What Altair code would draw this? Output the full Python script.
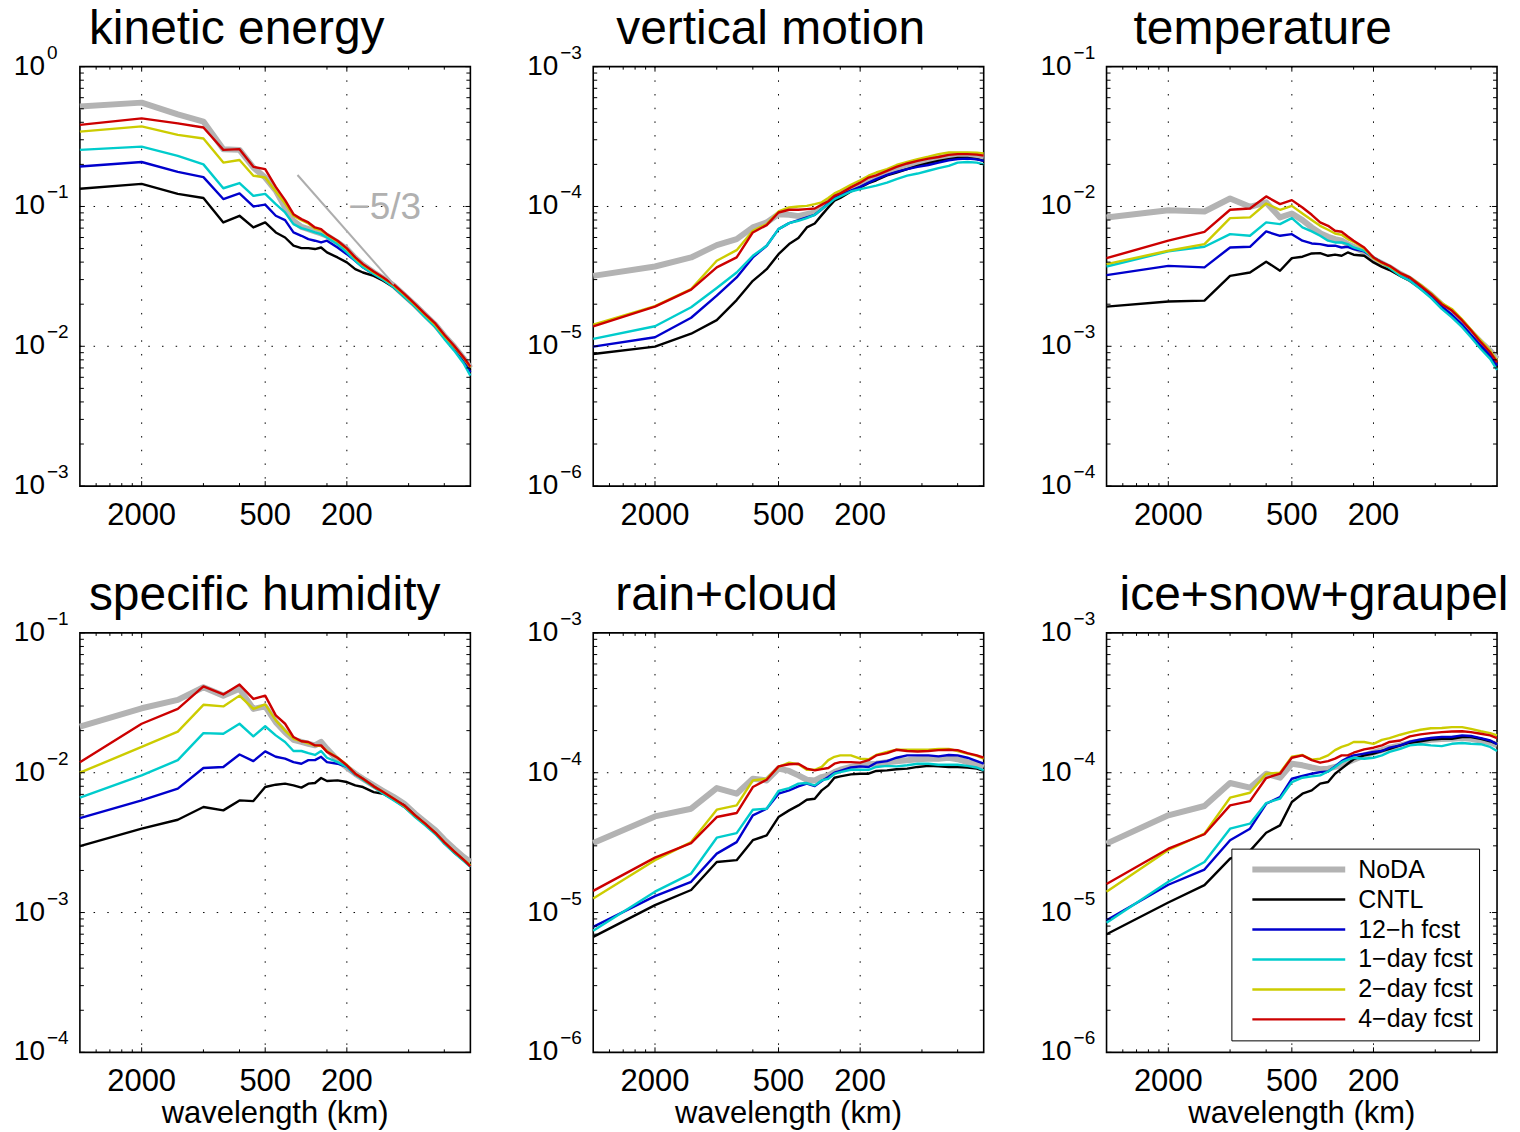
import altair as alt
import pandas as pd

FONT = "Liberation Sans"

SERIES = ["NoDA", "CNTL", "12\u2212h fcst", "1\u2212day fcst", "2\u2212day fcst", "4\u2212day fcst"]
COLORS = ["#b3b3b3", "#000000", "#0000cc", "#00cccc", "#cccc00", "#cc0000"]
WIDTHS = [6, 2.4, 2.4, 2.4, 2.4, 2.4]

# wavelength (km) of each spectral sample
WAVELENGTH = [4000, 2000, 1333, 1000, 800, 667, 571, 500, 444, 400, 364, 333, 308, 286,
              267, 250, 222, 200, 182, 167, 148, 133, 118, 105, 93, 83, 74, 67, 60, 54, 50]

# ---- kinetic energy ----
ke_noda = [0.518, 0.553, 0.456, 0.405, 0.257, 0.254, 0.190, 0.161, 0.130, 0.0984, 0.079, 0.0715, 0.0689, 0.0663, 0.0641, 0.0617,
           0.0553, 0.0496, 0.0427, 0.0383, 0.0337, 0.0306, 0.0271, 0.0232, 0.0197, 0.0167, 0.0142, 0.0119, 0.00995, 0.00821, 0.0070]
ke_cntl = [0.134, 0.145, 0.123, 0.115, 0.0769, 0.0858, 0.0708, 0.0769, 0.0652, 0.0600, 0.0524, 0.0504, 0.0504, 0.0496, 0.0509, 0.0469,
           0.0432, 0.0398, 0.0356, 0.0337, 0.0319, 0.0294, 0.0264, 0.0227, 0.0193, 0.0164, 0.0138, 0.0116, 0.00962, 0.00799, 0.0067]
ke_12h = [0.193, 0.208, 0.177, 0.162, 0.113, 0.124, 0.100, 0.103, 0.0858, 0.0799, 0.0652, 0.0617, 0.0584, 0.0569, 0.0553, 0.0569,
          0.0509, 0.0456, 0.0409, 0.0367, 0.0329, 0.0301, 0.0267, 0.0228, 0.0194, 0.0164, 0.0139, 0.0116, 0.00962, 0.0079, 0.00652]
ke_1day = [0.254, 0.268, 0.230, 0.200, 0.135, 0.147, 0.119, 0.123, 0.104, 0.0906, 0.0748, 0.0700, 0.0677, 0.0652, 0.0634, 0.0600,
           0.0538, 0.0469, 0.0409, 0.0367, 0.0329, 0.0299, 0.0264, 0.0226, 0.0192, 0.0161, 0.0137, 0.0113, 0.00931, 0.00756, 0.00617]
ke_2day = [0.343, 0.374, 0.325, 0.306, 0.206, 0.215, 0.166, 0.161, 0.128, 0.105, 0.0858, 0.0799, 0.0756, 0.0696, 0.0677, 0.0627,
           0.0563, 0.0496, 0.0427, 0.0383, 0.0339, 0.0308, 0.0273, 0.0234, 0.0198, 0.0168, 0.0142, 0.0119, 0.00995, 0.00825, 0.00704]
ke_4day = [0.383, 0.427, 0.393, 0.367, 0.254, 0.257, 0.192, 0.185, 0.138, 0.111, 0.0881, 0.0812, 0.0769, 0.0708, 0.0689, 0.0634,
           0.0569, 0.0501, 0.0432, 0.0387, 0.0343, 0.0311, 0.0276, 0.0237, 0.0200, 0.0170, 0.0145, 0.0121, 0.0101, 0.00835, 0.00715]

# ---- vertical motion ----
vm_noda = [3.19e-5, 3.72e-5, 4.32e-5, 5.29e-5, 5.84e-5, 7.08e-5, 7.69e-5, 8.81e-5, 8.72e-5, 8.53e-5, 8.81e-5, 9.06e-5, 9.84e-5, 1.07e-4, 1.16e-4, 1.21e-4,
           1.33e-4, 1.43e-4, 1.54e-4, 1.63e-4, 1.74e-4, 1.84e-4, 1.95e-4, 2.05e-4, 2.14e-4, 2.22e-4, 2.27e-4, 2.31e-4, 2.31e-4, 2.28e-4, 2.24e-4]
vm_cntl = [8.81e-6, 9.95e-6, 1.23e-5, 1.54e-5, 2.14e-5, 2.94e-5, 3.56e-5, 4.56e-5, 5.38e-5, 5.94e-5, 7.08e-5, 7.56e-5, 8.67e-5, 9.84e-5, 1.10e-4, 1.15e-4,
           1.28e-4, 1.37e-4, 1.47e-4, 1.54e-4, 1.67e-4, 1.75e-4, 1.85e-4, 1.95e-4, 2.04e-4, 2.12e-4, 2.18e-4, 2.22e-4, 2.22e-4, 2.18e-4, 2.12e-4]
vm_12h = [9.95e-6, 1.16e-5, 1.60e-5, 2.30e-5, 3.11e-5, 4.32e-5, 5.24e-5, 6.89e-5, 7.60e-5, 7.99e-5, 8.35e-5, 8.72e-5, 9.57e-5, 1.05e-4, 1.15e-4, 1.21e-4,
          1.30e-4, 1.38e-4, 1.48e-4, 1.57e-4, 1.68e-4, 1.77e-4, 1.85e-4, 1.92e-4, 1.98e-4, 2.06e-4, 2.14e-4, 2.18e-4, 2.20e-4, 2.17e-4, 2.12e-4]
vm_1day = [1.13e-5, 1.39e-5, 1.90e-5, 2.61e-5, 3.37e-5, 4.44e-5, 5.24e-5, 6.89e-5, 7.60e-5, 7.90e-5, 8.25e-5, 8.72e-5, 9.57e-5, 1.04e-4, 1.13e-4, 1.18e-4,
           1.28e-4, 1.33e-4, 1.37e-4, 1.41e-4, 1.48e-4, 1.57e-4, 1.66e-4, 1.72e-4, 1.80e-4, 1.88e-4, 1.95e-4, 2.06e-4, 2.08e-4, 2.06e-4, 2.00e-4]
vm_2day = [1.43e-5, 1.94e-5, 2.57e-5, 4.09e-5, 4.87e-5, 6.70e-5, 7.48e-5, 9.21e-5, 9.84e-5, 1.00e-4, 1.01e-4, 1.04e-4, 1.07e-4, 1.15e-4, 1.24e-4, 1.30e-4,
           1.43e-4, 1.54e-4, 1.66e-4, 1.75e-4, 1.85e-4, 1.98e-4, 2.08e-4, 2.18e-4, 2.27e-4, 2.37e-4, 2.43e-4, 2.43e-4, 2.43e-4, 2.42e-4, 2.39e-4]
vm_4day = [1.39e-5, 1.92e-5, 2.54e-5, 3.67e-5, 4.32e-5, 6.52e-5, 7.36e-5, 9.06e-5, 9.47e-5, 9.47e-5, 9.57e-5, 9.68e-5, 1.03e-4, 1.09e-4, 1.19e-4, 1.24e-4,
           1.37e-4, 1.48e-4, 1.61e-4, 1.67e-4, 1.80e-4, 1.92e-4, 2.03e-4, 2.12e-4, 2.20e-4, 2.26e-4, 2.34e-4, 2.37e-4, 2.37e-4, 2.35e-4, 2.31e-4]

# ---- temperature ----
tp_noda = [8.35e-3, 9.41e-3, 9.21e-3, 1.14e-2, 9.95e-3, 1.07e-2, 8.35e-3, 8.91e-3, 7.99e-3, 7.08e-3, 6.45e-3, 6.07e-3, 5.84e-3, 5.69e-3, 5.38e-3, 5.15e-3,
           4.69e-3, 4.20e-3, 3.91e-3, 3.67e-3, 3.29e-3, 3.03e-3, 2.67e-3, 2.34e-3, 1.98e-3, 1.72e-3, 1.48e-3, 1.26e-3, 1.07e-3, 9.31e-4, 8.12e-4]
tp_cntl = [1.92e-3, 2.09e-3, 2.12e-3, 3.19e-3, 3.37e-3, 4.03e-3, 3.47e-3, 4.27e-3, 4.37e-3, 4.61e-3, 4.64e-3, 4.44e-3, 4.52e-3, 4.44e-3, 4.69e-3, 4.52e-3,
           4.44e-3, 3.98e-3, 3.70e-3, 3.51e-3, 3.19e-3, 2.94e-3, 2.60e-3, 2.26e-3, 1.90e-3, 1.66e-3, 1.41e-3, 1.19e-3, 9.95e-4, 8.44e-4, 7.08e-4]
tp_12h = [3.23e-3, 3.76e-3, 3.67e-3, 5.09e-3, 5.15e-3, 6.63e-3, 6.17e-3, 6.34e-3, 5.69e-3, 5.44e-3, 5.38e-3, 5.24e-3, 5.24e-3, 5.09e-3, 5.15e-3, 4.96e-3,
          4.77e-3, 4.32e-3, 3.98e-3, 3.67e-3, 3.25e-3, 3.03e-3, 2.67e-3, 2.30e-3, 1.93e-3, 1.68e-3, 1.43e-3, 1.21e-3, 1.01e-3, 8.58e-4, 7.27e-4]
tp_1day = [3.72e-3, 4.77e-3, 5.15e-3, 6.34e-3, 6.17e-3, 7.69e-3, 7.48e-3, 8.25e-3, 7.08e-3, 6.63e-3, 6.17e-3, 5.69e-3, 5.53e-3, 5.53e-3, 5.38e-3, 5.09e-3,
           4.82e-3, 4.32e-3, 3.98e-3, 3.63e-3, 3.19e-3, 2.94e-3, 2.57e-3, 2.22e-3, 1.85e-3, 1.61e-3, 1.37e-3, 1.16e-3, 9.57e-4, 8.12e-4, 6.77e-4]
tp_2day = [3.87e-3, 4.82e-3, 5.38e-3, 8.25e-3, 8.35e-3, 1.05e-2, 9.47e-3, 1.01e-2, 8.91e-3, 7.99e-3, 7.27e-3, 6.81e-3, 6.41e-3, 6.27e-3, 5.84e-3, 5.59e-3,
           5.01e-3, 4.27e-3, 3.93e-3, 3.72e-3, 3.32e-3, 3.11e-3, 2.76e-3, 2.40e-3, 2.04e-3, 1.85e-3, 1.56e-3, 1.32e-3, 1.10e-3, 9.31e-4, 7.90e-4]
tp_4day = [4.27e-3, 5.69e-3, 6.59e-3, 9.47e-3, 9.68e-3, 1.18e-2, 1.04e-2, 1.11e-2, 9.84e-3, 8.72e-3, 7.69e-3, 7.27e-3, 6.70e-3, 6.59e-3, 6.10e-3, 5.69e-3,
           5.09e-3, 4.32e-3, 3.98e-3, 3.76e-3, 3.34e-3, 3.11e-3, 2.71e-3, 2.37e-3, 2.00e-3, 1.80e-3, 1.53e-3, 1.30e-3, 1.07e-3, 9.06e-4, 7.69e-4]

# ---- specific humidity ----
sh_noda = [2.14e-2, 2.89e-2, 3.32e-2, 4.09e-2, 3.56e-2, 3.98e-2, 2.86e-2, 2.98e-2, 2.30e-2, 1.95e-2, 1.72e-2, 1.66e-2, 1.61e-2, 1.57e-2, 1.66e-2, 1.48e-2,
           1.23e-2, 1.09e-2, 9.84e-3, 9.06e-3, 8.12e-3, 7.40e-3, 6.70e-3, 6.00e-3, 5.09e-3, 4.44e-3, 3.87e-3, 3.32e-3, 2.86e-3, 2.50e-3, 2.30e-3]
sh_cntl = [2.99e-3, 3.98e-3, 4.61e-3, 5.69e-3, 5.38e-3, 6.34e-3, 6.27e-3, 7.90e-3, 8.21e-3, 8.35e-3, 8.12e-3, 7.82e-3, 8.35e-3, 8.44e-3, 9.16e-3, 8.72e-3,
           8.81e-3, 8.58e-3, 8.12e-3, 7.90e-3, 7.27e-3, 7.08e-3, 6.41e-3, 5.84e-3, 4.96e-3, 4.27e-3, 3.70e-3, 3.14e-3, 2.70e-3, 2.37e-3, 2.17e-3]
sh_12h = [4.74e-3, 6.34e-3, 7.69e-3, 1.08e-2, 1.10e-2, 1.35e-2, 1.21e-2, 1.42e-2, 1.30e-2, 1.26e-2, 1.19e-2, 1.16e-2, 1.23e-2, 1.23e-2, 1.30e-2, 1.19e-2,
          1.16e-2, 1.10e-2, 9.73e-3, 9.06e-3, 7.99e-3, 7.19e-3, 6.41e-3, 5.69e-3, 4.87e-3, 4.25e-3, 3.67e-3, 3.14e-3, 2.70e-3, 2.37e-3, 2.14e-3]
sh_1day = [6.63e-3, 9.57e-3, 1.23e-2, 1.92e-2, 1.90e-2, 2.24e-2, 1.82e-2, 2.15e-2, 1.85e-2, 1.66e-2, 1.43e-2, 1.43e-2, 1.38e-2, 1.34e-2, 1.43e-2, 1.28e-2,
           1.19e-2, 1.10e-2, 9.73e-3, 8.91e-3, 7.90e-3, 7.08e-3, 6.34e-3, 5.69e-3, 4.82e-3, 4.20e-3, 3.63e-3, 3.11e-3, 2.67e-3, 2.34e-3, 2.12e-3]
sh_2day = [1.00e-2, 1.53e-2, 1.97e-2, 3.06e-2, 2.98e-2, 3.56e-2, 2.86e-2, 3.08e-2, 2.37e-2, 2.00e-2, 1.75e-2, 1.68e-2, 1.62e-2, 1.57e-2, 1.55e-2, 1.43e-2,
           1.28e-2, 1.14e-2, 9.84e-3, 9.06e-3, 7.99e-3, 7.27e-3, 6.52e-3, 5.78e-3, 4.93e-3, 4.32e-3, 3.72e-3, 3.19e-3, 2.74e-3, 2.39e-3, 2.18e-3]
sh_4day = [1.19e-2, 2.24e-2, 2.86e-2, 4.14e-2, 3.63e-2, 4.27e-2, 3.37e-2, 3.56e-2, 2.57e-2, 2.24e-2, 1.80e-2, 1.68e-2, 1.66e-2, 1.57e-2, 1.57e-2, 1.41e-2,
           1.28e-2, 1.13e-2, 9.84e-3, 9.06e-3, 7.99e-3, 7.27e-3, 6.52e-3, 5.84e-3, 4.96e-3, 4.32e-3, 3.72e-3, 3.19e-3, 2.74e-3, 2.39e-3, 2.14e-3]

# ---- rain + cloud ----
rc_noda = [3.14e-5, 4.87e-5, 5.53e-5, 7.77e-5, 7.08e-5, 9.06e-5, 8.81e-5, 1.07e-4, 1.03e-4, 9.57e-5, 8.91e-5, 8.81e-5, 9.31e-5, 9.57e-5, 1.01e-4, 1.05e-4,
           1.10e-4, 1.13e-4, 1.15e-4, 1.16e-4, 1.19e-4, 1.21e-4, 1.23e-4, 1.25e-4, 1.26e-4, 1.26e-4, 1.28e-4, 1.25e-4, 1.19e-4, 1.15e-4, 1.10e-4]
rc_cntl = [6.70e-6, 1.13e-5, 1.45e-5, 2.30e-5, 2.37e-5, 3.29e-5, 3.56e-5, 4.82e-5, 5.38e-5, 5.84e-5, 6.41e-5, 6.52e-5, 7.48e-5, 8.12e-5, 9.21e-5, 9.41e-5,
           9.73e-5, 9.84e-5, 9.84e-5, 1.03e-4, 1.04e-4, 1.06e-4, 1.07e-4, 1.10e-4, 1.12e-4, 1.11e-4, 1.10e-4, 1.10e-4, 1.09e-4, 1.07e-4, 1.03e-4]
rc_12h = [7.90e-6, 1.31e-5, 1.66e-5, 2.64e-5, 3.19e-5, 4.96e-5, 5.53e-5, 7.08e-5, 7.48e-5, 7.99e-5, 8.35e-5, 8.03e-5, 8.72e-5, 9.31e-5, 1.00e-4, 1.03e-4,
          1.09e-4, 1.11e-4, 1.10e-4, 1.18e-4, 1.21e-4, 1.28e-4, 1.33e-4, 1.33e-4, 1.33e-4, 1.31e-4, 1.34e-4, 1.33e-4, 1.28e-4, 1.21e-4, 1.16e-4]
rc_1day = [7.40e-6, 1.41e-5, 1.90e-5, 3.43e-5, 3.70e-5, 5.44e-5, 5.53e-5, 7.40e-5, 7.77e-5, 8.35e-5, 8.44e-5, 8.12e-5, 8.81e-5, 9.06e-5, 9.84e-5, 1.01e-4,
           1.05e-4, 1.05e-4, 1.05e-4, 1.10e-4, 1.12e-4, 1.11e-4, 1.13e-4, 1.16e-4, 1.16e-4, 1.14e-4, 1.14e-4, 1.14e-4, 1.12e-4, 1.09e-4, 1.04e-4]
rc_2day = [1.26e-5, 2.37e-5, 3.19e-5, 5.44e-5, 5.84e-5, 8.81e-5, 9.06e-5, 1.10e-4, 1.18e-4, 1.15e-4, 1.05e-4, 1.05e-4, 1.10e-4, 1.23e-4, 1.30e-4, 1.33e-4,
           1.33e-4, 1.26e-4, 1.25e-4, 1.34e-4, 1.41e-4, 1.46e-4, 1.46e-4, 1.46e-4, 1.46e-4, 1.48e-4, 1.48e-4, 1.43e-4, 1.37e-4, 1.32e-4, 1.26e-4]
rc_4day = [1.43e-5, 2.47e-5, 3.14e-5, 4.82e-5, 5.15e-5, 7.90e-5, 8.91e-5, 1.11e-4, 1.15e-4, 1.16e-4, 1.07e-4, 1.04e-4, 1.06e-4, 1.08e-4, 1.16e-4, 1.19e-4,
           1.19e-4, 1.18e-4, 1.23e-4, 1.33e-4, 1.38e-4, 1.46e-4, 1.43e-4, 1.42e-4, 1.43e-4, 1.45e-4, 1.46e-4, 1.45e-4, 1.38e-4, 1.33e-4, 1.28e-4]

# ---- ice + snow + graupel ----
ig_noda = [3.11e-5, 4.96e-5, 5.78e-5, 8.44e-5, 7.82e-5, 9.84e-5, 9.21e-5, 1.16e-4, 1.13e-4, 1.09e-4, 1.06e-4, 1.07e-4, 1.10e-4, 1.13e-4, 1.19e-4, 1.24e-4,
           1.33e-4, 1.39e-4, 1.45e-4, 1.51e-4, 1.57e-4, 1.63e-4, 1.67e-4, 1.72e-4, 1.74e-4, 1.75e-4, 1.77e-4, 1.75e-4, 1.70e-4, 1.65e-4, 1.57e-4]
ig_cntl = [7.00e-6, 1.18e-5, 1.57e-5, 2.43e-5, 2.76e-5, 3.72e-5, 4.20e-5, 6.17e-5, 7.08e-5, 7.48e-5, 8.35e-5, 8.58e-5, 9.84e-5, 1.07e-4, 1.16e-4, 1.25e-4,
           1.33e-4, 1.37e-4, 1.43e-4, 1.48e-4, 1.57e-4, 1.64e-4, 1.68e-4, 1.73e-4, 1.75e-4, 1.75e-4, 1.80e-4, 1.80e-4, 1.75e-4, 1.68e-4, 1.61e-4]
ig_12h = [8.81e-6, 1.58e-5, 2.03e-5, 3.29e-5, 3.98e-5, 6.00e-5, 6.70e-5, 9.06e-5, 9.47e-5, 9.84e-5, 1.01e-4, 1.02e-4, 1.11e-4, 1.21e-4, 1.28e-4, 1.33e-4,
          1.37e-4, 1.41e-4, 1.43e-4, 1.51e-4, 1.57e-4, 1.67e-4, 1.73e-4, 1.77e-4, 1.80e-4, 1.80e-4, 1.85e-4, 1.83e-4, 1.77e-4, 1.70e-4, 1.60e-4]
ig_1day = [8.44e-6, 1.66e-5, 2.30e-5, 3.98e-5, 4.32e-5, 6.07e-5, 6.52e-5, 8.58e-5, 9.21e-5, 9.41e-5, 9.57e-5, 1.02e-4, 1.10e-4, 1.19e-4, 1.24e-4, 1.28e-4,
           1.26e-4, 1.28e-4, 1.33e-4, 1.41e-4, 1.48e-4, 1.57e-4, 1.60e-4, 1.57e-4, 1.55e-4, 1.61e-4, 1.63e-4, 1.61e-4, 1.60e-4, 1.53e-4, 1.43e-4]
ig_2day = [1.41e-5, 2.80e-5, 3.67e-5, 6.63e-5, 7.19e-5, 9.84e-5, 1.00e-4, 1.30e-4, 1.34e-4, 1.24e-4, 1.26e-4, 1.33e-4, 1.45e-4, 1.53e-4, 1.58e-4, 1.66e-4,
           1.66e-4, 1.61e-4, 1.72e-4, 1.77e-4, 1.87e-4, 1.95e-4, 2.03e-4, 2.08e-4, 2.09e-4, 2.12e-4, 2.12e-4, 2.06e-4, 1.98e-4, 1.92e-4, 1.85e-4]
ig_4day = [1.60e-5, 2.86e-5, 3.63e-5, 5.84e-5, 6.27e-5, 9.16e-5, 9.84e-5, 1.28e-4, 1.33e-4, 1.23e-4, 1.18e-4, 1.21e-4, 1.26e-4, 1.33e-4, 1.33e-4, 1.39e-4,
           1.47e-4, 1.51e-4, 1.57e-4, 1.66e-4, 1.70e-4, 1.82e-4, 1.88e-4, 1.92e-4, 1.95e-4, 1.97e-4, 1.98e-4, 1.95e-4, 1.90e-4, 1.85e-4, 1.77e-4]

# -5/3 reference slope in the kinetic energy panel
SLOPE_WAVELENGTH = [348, 118]
SLOPE_POWER = [0.168, 0.0277]
SLOPE_LABEL = "\u22125/3"

X_LABELED = [2000, 500, 200]
X_LABELS = ["2000", "500", "200"]
X_MINOR = [3333, 2857, 2500, 2222, 1000, 667, 250, 100, 67]
X_TITLE = "wavelength (km)"

PLOT_W, PLOT_H = 391, 420
GRID_DASH = [1.5, 12.2]
TITLE_SIZE = 48

PANELS = [
    dict(title="kinetic energy", lo=-3, hi=0,
         series=[ke_noda, ke_cntl, ke_12h, ke_1day, ke_2day, ke_4day], dx=9, offset=23, bottom=False),
    dict(title="vertical motion", lo=-6, hi=-3,
         series=[vm_noda, vm_cntl, vm_12h, vm_1day, vm_2day, vm_4day], dx=23, offset=23, bottom=False),
    dict(title="temperature", lo=-4, hi=-1,
         series=[tp_noda, tp_cntl, tp_12h, tp_1day, tp_2day, tp_4day], dx=27, offset=23, bottom=False),
    dict(title="specific humidity", lo=-4, hi=-1,
         series=[sh_noda, sh_cntl, sh_12h, sh_1day, sh_2day, sh_4day], dx=9, offset=23, bottom=True),
    dict(title="rain+cloud", lo=-6, hi=-3,
         series=[rc_noda, rc_cntl, rc_12h, rc_1day, rc_2day, rc_4day], dx=22, offset=23, bottom=True),
    dict(title="ice+snow+graupel", lo=-6, hi=-3,
         series=[ig_noda, ig_cntl, ig_12h, ig_1day, ig_2day, ig_4day], dx=13, offset=23, bottom=True),
]


def legend_def():
    return alt.Legend(
        orient="none", legendX=125, legendY=216, title=None,
        fillColor="white", strokeColor="black", padding=6,
        symbolType="stroke", symbolSize=8649, symbolOffset=12,
        labelFontSize=25, labelFont=FONT, labelColor="black",
        labelOffset=10, clipHeight=30, rowPadding=0, labelLimit=300,
    )


def make_panel(spec, with_legend=False):
    lo, hi = spec["lo"], spec["hi"]
    xscale = alt.Scale(type="log", domain=[50, 4000], reverse=True, nice=False)
    yscale = alt.Scale(type="log", domain=[10.0 ** lo, 10.0 ** hi], nice=False)
    decades = [10.0 ** e for e in range(lo, hi + 1)]

    def X(field):
        return alt.X(field, scale=xscale, axis=None)

    def Y(field):
        return alt.Y(field, scale=yscale, axis=None)

    layers = []

    # dotted grid at the labelled wavelengths and at every decade
    layers.append(
        alt.Chart(pd.DataFrame({"w": X_LABELED})).mark_rule(
            color="black", strokeWidth=1, strokeDash=GRID_DASH).encode(
            x=X("w:Q"), y=alt.value(0), y2=alt.value(PLOT_H))
    )
    layers.append(
        alt.Chart(pd.DataFrame({"v": decades[1:-1]})).mark_rule(
            color="black", strokeWidth=1, strokeDash=GRID_DASH).encode(
            y=Y("v:Q"), x=alt.value(0), x2=alt.value(PLOT_W))
    )

    color = alt.Scale(domain=SERIES, range=COLORS)
    width = alt.Scale(type="ordinal", domain=SERIES, range=WIDTHS)
    for name, vals in zip(SERIES, spec["series"]):
        df = pd.DataFrame({"wavelength": WAVELENGTH, "power": vals, "series": name})
        leg = legend_def() if with_legend else None
        layers.append(
            alt.Chart(df).mark_line(strokeJoin="round").encode(
                x=X("wavelength:Q"),
                y=Y("power:Q"),
                color=alt.Color("series:N", scale=color, legend=leg),
                strokeWidth=alt.StrokeWidth("series:N", scale=width, legend=leg),
            )
        )

    if spec["title"] == "kinetic energy":
        slope = pd.DataFrame({"wavelength": SLOPE_WAVELENGTH, "power": SLOPE_POWER})
        layers.append(
            alt.Chart(slope).mark_line(color="#adadad", strokeWidth=2).encode(
                x=X("wavelength:Q"), y=Y("power:Q"))
        )
        lab = pd.DataFrame({"wavelength": [197], "power": [0.098], "label": [SLOPE_LABEL]})
        layers.append(
            alt.Chart(lab).mark_text(align="left", baseline="middle", fontSize=37,
                                     font=FONT, color="#b0b0b0").encode(
                x=X("wavelength:Q"), y=Y("power:Q"), text="label:N")
        )

    # inward tick marks on all four sides
    y_major = pd.DataFrame({"v": decades})
    y_minor = pd.DataFrame({"v": [m * 10.0 ** e for e in range(lo, hi) for m in range(2, 10)]})
    x_major = pd.DataFrame({"w": X_LABELED})
    x_minor = pd.DataFrame({"w": X_MINOR})
    for frame, length in ((y_major, 5), (y_minor, 4)):
        for x0, x1 in ((0, length), (PLOT_W - length, PLOT_W)):
            layers.append(
                alt.Chart(frame).mark_rule(color="black", strokeWidth=1).encode(
                    y=Y("v:Q"), x=alt.value(x0), x2=alt.value(x1))
            )
    for frame, length in ((x_major, 5), (x_minor, 3)):
        for y0, y1 in ((0, length), (PLOT_H - length, PLOT_H)):
            layers.append(
                alt.Chart(frame).mark_rule(color="black", strokeWidth=1).encode(
                    x=X("w:Q"), y=alt.value(y0), y2=alt.value(y1))
            )

    # y tick labels: 10 with a raised exponent
    exps = pd.DataFrame({
        "v": decades,
        "exp": [("\u2212" + str(-e)) if e < 0 else str(e) for e in range(lo, hi + 1)],
    })
    layers.append(
        alt.Chart(exps).mark_text(align="right", baseline="middle", fontSize=28,
                                  font=FONT, color="black").encode(
            y=Y("v:Q"), x=alt.value(-35), text=alt.value("10"))
    )
    layers.append(
        alt.Chart(exps).mark_text(align="left", baseline="middle", fontSize=19, dy=-14,
                                  font=FONT, color="black").encode(
            y=Y("v:Q"), x=alt.value(-33), text="exp:N")
    )

    # x tick labels
    layers.append(
        alt.Chart(pd.DataFrame({"w": X_LABELED, "label": X_LABELS})).mark_text(
            align="center", baseline="top", fontSize=31, font=FONT, color="black").encode(
            x=X("w:Q"), y=alt.value(PLOT_H + 15), text="label:N")
    )
    if spec["bottom"]:
        layers.append(
            alt.Chart(pd.DataFrame({"t": [X_TITLE]})).mark_text(
                align="center", baseline="alphabetic", fontSize=31, font=FONT,
                color="black").encode(
                x=alt.value(PLOT_W / 2), y=alt.value(PLOT_H + 71), text="t:N")
        )

    # panel heading
    layers.append(
        alt.Chart(pd.DataFrame({"t": [spec["title"]]})).mark_text(
            align="left", baseline="alphabetic", fontSize=TITLE_SIZE, font=FONT,
            color="black").encode(
            x=alt.value(spec["dx"]), y=alt.value(-spec["offset"]), text="t:N")
    )

    return alt.layer(*layers).properties(width=PLOT_W, height=PLOT_H)


panels = [make_panel(p, with_legend=(i == 5)) for i, p in enumerate(PANELS)]

chart = alt.concat(
    *panels, columns=3, spacing={"row": 147, "column": 123}, bounds="flush"
).resolve_scale(
    x="independent", y="independent"
).resolve_legend(
    color="independent", strokeWidth="independent"
).configure(
    font=FONT, background="white",
    padding={"left": 13, "top": 4, "right": 10, "bottom": 0},
).configure_view(
    stroke="black", strokeWidth=1.6
)

chart.save("out.html", embed_options={"renderer": "svg", "actions": False})
